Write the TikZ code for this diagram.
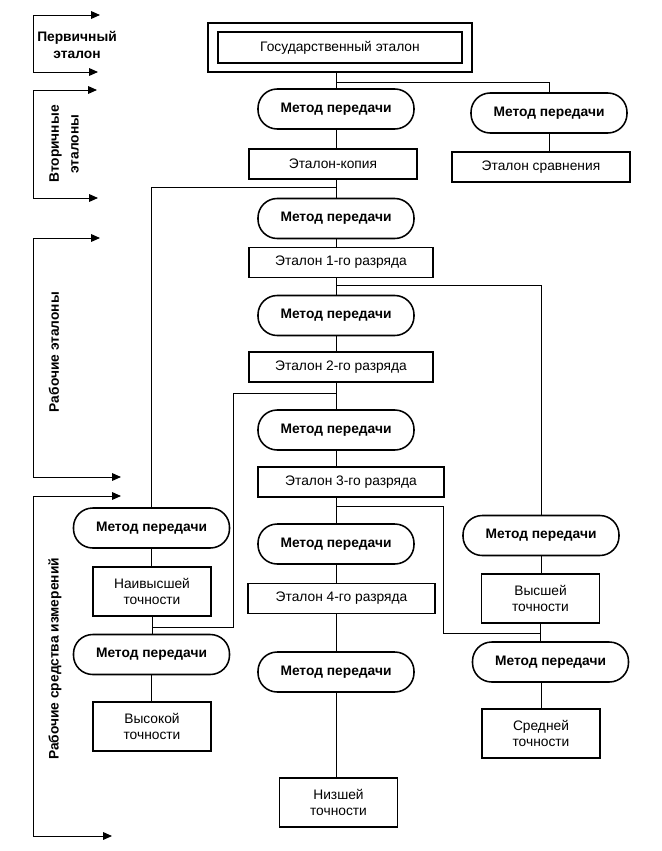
\documentclass[tikz,border=0pt]{standalone}
\usepackage{fontspec}
\setmainfont{Liberation Sans}
\usetikzlibrary{arrows.meta, positioning}
\tikzset{
  methodnode/.style = {
    rectangle, 
    rounded corners=4.8mm, 
    draw=black, 
    fill=white, 
    font=\fontsize{9.8}{11}\selectfont\bfseries, 
    align=center, 
    inner sep=0pt, 
    minimum width=3.9cm, 
    minimum height=1cm, 
    line width=1.1pt
  },
  etalonbox/.style = {
    rectangle, 
    draw=black, 
    fill=white, 
    font=\fontsize{9.8}{11}\selectfont, 
    align=center, 
    inner sep=0pt, 
    minimum height=0.75cm, 
    line width=1.1pt
  },
  accuracybox/.style = {
    rectangle, 
    draw=black, 
    fill=white, 
    font=\fontsize{9.8}{11.2}\selectfont, 
    align=center, 
    inner sep=0pt, 
    minimum width=2.95cm, 
    minimum height=1.225cm, 
    line width=1.1pt
  },
  levellabel/.style = {
    font=\fontsize{9.8}{11.6}\selectfont\bfseries, 
    align=center, 
    inner sep=0pt
  },
  linkline/.style = {
    line width=0.6pt, 
    draw=black
  },
  levelarrow/.style = {
    {Triangle[length=2.2mm, width=1.9mm]}-{Triangle[length=2.2mm, width=1.9mm]}, 
    line width=0.7pt, 
    draw=black
  }
}
\begin{document}
\begin{tikzpicture}[x=1cm, y=1cm]
  \useasboundingbox (0, 0) rectangle (16.55, -21.275);

  % Level Brackets on the Left
  \coordinate (spine) at (0.825, 0);
  \coordinate (p1t) at (2.5, -0.375);
  \coordinate (p1b) at (2.45, -1.8);
  \coordinate (p2t) at (2.425, -2.25);
  \coordinate (p2b) at (2.45, -4.95);
  \coordinate (p3t) at (2.5, -5.95);
  \coordinate (p3b) at (3.025, -11.925);
  \coordinate (p4t) at (3.025, -12.4);
  \coordinate (p4b) at (2.8, -20.9);

  \draw[levelarrow] (p1t) -- (p1t -| spine) |- (p1b);
  \draw[levelarrow] (p2t) -- (p2t -| spine) |- (p2b);
  \draw[levelarrow] (p3t) -- (p3t -| spine) |- (p3b);
  \draw[levelarrow] (p4t) -- (p4t -| spine) |- (p4b);

  \node[levellabel] (primary) at (1.925, -1.125) {Первичный\\эталон};
  \node[levellabel, rotate=90, font=\fontsize{9.8}{14}\selectfont\bfseries] (secondary) at (1.6, -3.6) {Вторичные\\эталоны};
  \node[levellabel, rotate=90] (working) at (1.35, -8.8) {Рабочие эталоны};
  \node[levellabel, rotate=90] (instruments) at (1.375, -16.475) {Рабочие средства измерений};

  % State Standard
  \node[etalonbox, minimum width=6.1cm, minimum height=0.775cm] (gos) at (8.5, -1.1875) {Государственный эталон};
  \node[rectangle, draw=black, line width=1.1pt, minimum width=6.6cm, minimum height=1.225cm] (gosout) at (8.5, -1.1875) {};

  % Main Column
  \node[methodnode] (m1) at (8.4, -2.725) {Метод передачи};
  \node[etalonbox, minimum width=4.2cm] (kopiya) at (8.325, -4.1) {Эталон-копия};
  \node[methodnode] (m2) at (8.4, -5.4625) {Метод передачи};
  \node[etalonbox, minimum width=4.6cm] (r1) at (8.525, -6.5625) {Эталон 1-го разряда};
  \node[methodnode] (m3) at (8.4, -7.8875) {Метод передачи};
  \node[etalonbox, minimum width=4.6cm] (r2) at (8.525, -9.175) {Эталон 2-го разряда};
  \node[methodnode] (m4) at (8.4, -10.75) {Метод передачи};
  \node[etalonbox, minimum width=4.65cm] (r3) at (8.775, -12.05) {Эталон 3-го разряда};
  \node[methodnode] (m5) at (8.4, -13.6) {Метод передачи};
  \node[etalonbox, minimum width=4.675cm] (r4) at (8.5375, -14.9625) {Эталон 4-го разряда};
  \node[methodnode] (m6) at (8.4, -16.8) {Метод передачи};
  \node[accuracybox] (low) at (8.4625, -20.0625) {Низшей\\точности};

  % Right Column
  \node[methodnode] (mR1) at (13.725, -2.825) {Метод передачи};
  \node[etalonbox, minimum width=4.45cm] (sravn) at (13.525, -4.175) {Эталон сравнения};
  \node[methodnode] (mR2) at (13.525, -13.3875) {Метод передачи};
  \node[accuracybox] (high) at (13.5125, -14.9625) {Высшей\\точности};
  \node[methodnode] (mR3) at (13.7625, -16.55) {Метод передачи};
  \node[accuracybox] (mid) at (13.525, -18.3375) {Средней\\точности};

  % Left Column
  \node[methodnode] (mL1) at (3.7875, -13.2) {Метод передачи};
  \node[accuracybox] (top) at (3.8, -14.7875) {Наивысшей\\точности};
  \node[methodnode] (mL2) at (3.7875, -16.3625) {Метод передачи};
  \node[accuracybox] (vhigh) at (3.8, -18.1625) {Высокой\\точности};

  % Branch Points
  \coordinate (s0) at (8.4, -2.05);
  \coordinate (s1) at (8.4, -4.675);
  \coordinate (s2) at (8.4, -7.125);
  \coordinate (s3) at (8.4, -9.825);
  \coordinate (s4) at (8.4, -12.65);
  \coordinate (k3) at (5.825, -15.675);
  \coordinate (jL) at (3.8, -15.675);
  \coordinate (k4) at (11.075, -15.825);
  \coordinate (jR) at (13.5, -15.825);

  % Main Links
  \draw[linkline] (m1.north |- gosout.south) -- (m1.north);
  \draw[linkline] (m1.south) -- (m1.south |- kopiya.north);
  \draw[linkline] (m2.north |- kopiya.south) -- (m2.north);
  \draw[linkline] (m2.south) -- (m2.south |- r1.north);
  \draw[linkline] (m3.north |- r1.south) -- (m3.north);
  \draw[linkline] (m3.south) -- (m3.south |- r2.north);
  \draw[linkline] (m4.north |- r2.south) -- (m4.north);
  \draw[linkline] (m4.south) -- (m4.south |- r3.north);
  \draw[linkline] (m5.north |- r3.south) -- (m5.north);
  \draw[linkline] (m5.south) -- (m5.south |- r4.north);
  \draw[linkline] (m6.north |- r4.south) -- (m6.north);
  \draw[linkline] (m6.south) -- (m6.south |- low.north);

  \draw[linkline] (mR1.south) -- (mR1.south |- sravn.north);
  \draw[linkline] (mR2.south) -- (mR2.south |- high.north);
  \draw[linkline] (high.south) -- (high.south |- mR3.north);
  \draw[linkline] (mid.north |- mR3.south) -- (mid.north);

  \draw[linkline] (mL1.south) -- (mL1.south |- top.north);
  \draw[linkline] (top.south) -- (top.south |- mL2.north);
  \draw[linkline] (mL2.south) -- (mL2.south |- vhigh.north);

  % Branch Links
  \draw[linkline] (s0) -| (mR1.north);
  \draw[linkline] (s1) -| (mL1.north);
  \draw[linkline] (s2) -| (mR2.north);
  \draw[linkline] (s3) -| (k3) -- (jL);
  \draw[linkline] (s4) -| (k4) -- (jR);
\end{tikzpicture}
\end{document}
